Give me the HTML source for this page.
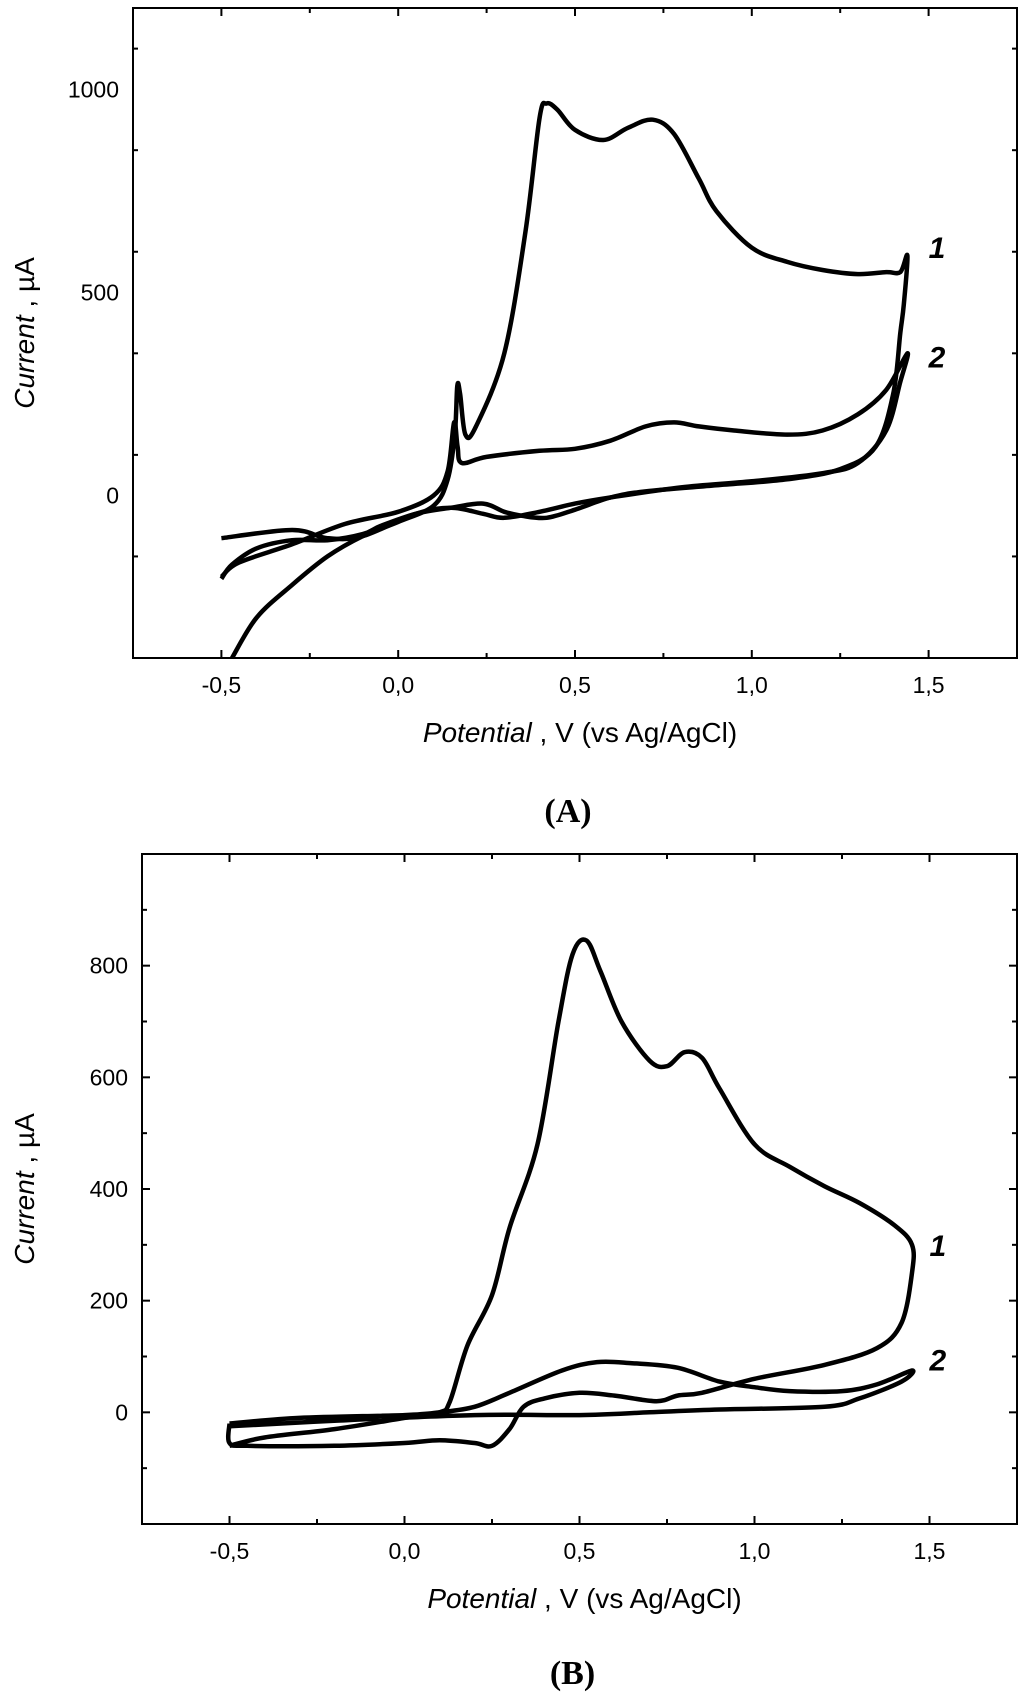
<!DOCTYPE html>
<html><head><meta charset="utf-8">
<style>
body{margin:0;background:#fff;}
svg{display:block;font-family:"Liberation Sans",sans-serif;}
.cap{font-family:"Liberation Serif",serif;font-weight:bold;font-size:34px;}
</style></head>
<body>
<svg id="chart" width="1024" height="1697" viewBox="0 0 1024 1697"></svg>
<script>
// Panel A data (V, µA)
const aX1=[-0.47,-0.4,-0.3,-0.2,-0.1,0,0.1,0.14,0.16,0.167,0.175,0.19,0.22,0.3,0.36,0.4,0.42,0.45,0.5,0.58,0.65,0.72,0.78,0.85,0.9,1.0,1.1,1.2,1.3,1.38,1.42,1.44,1.43,1.42,1.4,1.35,1.25,1.1,0.9,0.7,0.6,0.5,0.42,0.35,0.3,0.24,0.15,0.05,-0.05,-0.1,-0.2,-0.3,-0.4,-0.47,-0.5];
const aY1=[-400,-300,-220,-150,-100,-65,-25,40,150,270,250,150,170,350,650,930,965,950,900,875,905,925,890,780,700,610,575,555,545,550,550,590,470,400,250,120,65,40,25,10,-5,-35,-55,-50,-40,-20,-30,-45,-75,-95,-110,-110,-130,-170,-205];
const aX2=[-0.5,-0.45,-0.3,-0.15,0,0.1,0.14,0.158,0.168,0.18,0.25,0.4,0.5,0.6,0.7,0.78,0.85,0.95,1.1,1.2,1.3,1.38,1.44,1.42,1.38,1.3,1.2,1.0,0.8,0.6,0.5,0.4,0.3,0.24,0.15,0.05,-0.1,-0.2,-0.3,-0.5];
const aY2=[-200,-165,-120,-70,-40,0,60,180,120,80,95,110,115,135,170,180,170,160,150,160,200,260,350,280,160,80,55,35,20,-5,-20,-40,-55,-45,-30,-45,-100,-105,-85,-105];
// Panel B data
const bX1=[-0.5,-0.4,-0.2,0,0.1,0.13,0.18,0.25,0.3,0.38,0.44,0.48,0.52,0.56,0.62,0.7,0.75,0.8,0.85,0.9,1.0,1.1,1.2,1.3,1.4,1.45,1.45,1.42,1.35,1.2,1.0,0.85,0.78,0.72,0.6,0.5,0.4,0.34,0.3,0.25,0.2,0.1,0,-0.2,-0.45,-0.5,-0.5];
const bY1=[-60,-45,-30,-10,0,20,120,210,330,480,700,820,845,790,700,630,620,645,635,580,480,440,405,375,335,300,250,160,115,85,60,35,30,20,30,35,25,10,-30,-60,-55,-50,-55,-60,-60,-55,-20];
const bX2=[-0.5,-0.3,0,0.1,0.2,0.3,0.45,0.55,0.65,0.78,0.9,1.0,1.1,1.25,1.35,1.45,1.42,1.3,1.2,0.9,0.7,0.5,0.2,-0.2,-0.5];
const bY2=[-20,-10,-5,0,10,35,75,90,88,80,55,45,38,38,50,75,55,25,10,5,0,-5,-5,-15,-25];
const aYTicks=[0,500,1000];
const bYTicks=[0,200,400,600,800];
const xTicks=[-0.5,0,0.5,1.0,1.5];
const xTickLabels=["-0,5","0,0","0,5","1,0","1,5"];

const NS="http://www.w3.org/2000/svg";
const svg=document.getElementById('chart');
function mk(tag,attrs,parent){const e=document.createElementNS(NS,tag);for(const k in attrs)e.setAttribute(k,attrs[k]);(parent||svg).appendChild(e);return e;}
function smooth(pts){let d="M"+pts[0][0].toFixed(1)+","+pts[0][1].toFixed(1);
 for(let i=0;i<pts.length-1;i++){const p0=pts[Math.max(i-1,0)],p1=pts[i],p2=pts[i+1],p3=pts[Math.min(i+2,pts.length-1)];
  const c1=[p1[0]+(p2[0]-p0[0])/6,p1[1]+(p2[1]-p0[1])/6],c2=[p2[0]-(p3[0]-p1[0])/6,p2[1]-(p3[1]-p1[1])/6];
  d+="C"+c1.join(",")+" "+c2.join(",")+" "+p2.join(",");}
 return d;}
function panel(cfg){
 const g=mk('g',{});
 
 
 const sx=v=>cfg.L+(v-(-0.75))/2.5*(cfg.R-cfg.L);
 const sy=v=>cfg.B-(v-cfg.ymin)/(cfg.ymax-cfg.ymin)*(cfg.B-cfg.T);
 const box=mk('rect',{x:cfg.L,y:cfg.T,width:cfg.R-cfg.L,height:cfg.B-cfg.T,fill:'none',stroke:'#000','stroke-width':2},g);
 
 
 for(let v=-0.75;v<=1.751;v+=0.25){const x=sx(v);const major=Math.abs((v*2)-Math.round(v*2))<1e-6;const len=major?8:5;
  mk('line',{x1:x,y1:cfg.B,x2:x,y2:cfg.B-len,stroke:'#000','stroke-width':2},g);
  mk('line',{x1:x,y1:cfg.T,x2:x,y2:cfg.T+len,stroke:'#000','stroke-width':2},g);}
 xTicks.forEach((v,i)=>{const t=mk('text',{x:sx(v),y:cfg.B+35,'text-anchor':'middle','font-size':23},g);t.textContent=xTickLabels[i];
  
  });
 for(let v=cfg.ymin;v<=cfg.ymax+1e-6;v+=cfg.minor){const y=sy(v);const major=Math.abs(v%cfg.major)<1e-6;const len=major?8:5;
  mk('line',{x1:cfg.L,y1:y,x2:cfg.L+len,y2:y,stroke:'#000','stroke-width':2},g);
  mk('line',{x1:cfg.R,y1:y,x2:cfg.R-len,y2:y,stroke:'#000','stroke-width':2},g);}
 cfg.yt.forEach(v=>{const t=mk('text',{x:cfg.L-14,y:sy(v)+8,'text-anchor':'end','font-size':23},g);t.textContent=v;
  
  });
 [[cfg.x1,cfg.y1,'curve-1'],[cfg.x2,cfg.y2,'curve-2']].forEach(([xs,ys,n])=>{
  const p=mk('path',{d:smooth(xs.map((v,i)=>[+sx(v).toFixed(1),+sy(ys[i]).toFixed(1)])),fill:'none',stroke:'#000','stroke-width':4.5,'stroke-linejoin':'round'},g);
  
  });
 cfg.labels.forEach(([txt,v,u])=>{const t=mk('text',{x:sx(v),y:sy(u),'font-size':30,'font-weight':'bold','font-style':'italic'},g);t.textContent=txt;
  
  });
 const xt=mk('text',{x:(cfg.L+cfg.R)/2+5,y:cfg.B+84,'text-anchor':'middle','font-size':28},g);
 xt.innerHTML='<tspan font-style="italic">Potential</tspan> ,  V (vs Ag/AgCl)';
 
 
 const cy=(cfg.T+cfg.B)/2;
 const yt=mk('text',{x:0,y:0,'text-anchor':'middle','font-size':28,transform:`translate(34,${cy}) rotate(-90)`},g);
 yt.innerHTML='<tspan font-style="italic">Current</tspan> ,  µA';
 
 
 const c=mk('text',{x:(cfg.L+cfg.R)/2-7,y:cfg.capY,'text-anchor':'middle',class:'cap'},g);
 c.textContent=cfg.cap;
 
 
}
panel({name:'panel-a',L:133,R:1017,T:8,B:658,ymin:-400,ymax:1200,major:500,minor:250,yt:aYTicks,x1:aX1,y1:aY1,x2:aX2,y2:aY2,
 labels:[['1',1.5,585],['2',1.5,315]],cap:'(A)',capY:822});
panel({name:'panel-b',L:142,R:1017,T:854,B:1524,ymin:-200,ymax:1000,major:200,minor:100,yt:bYTicks,x1:bX1,y1:bY1,x2:bX2,y2:bY2,
 labels:[['1',1.5,280],['2',1.5,75]],cap:'(B)',capY:1684});
</script>
</body></html>
